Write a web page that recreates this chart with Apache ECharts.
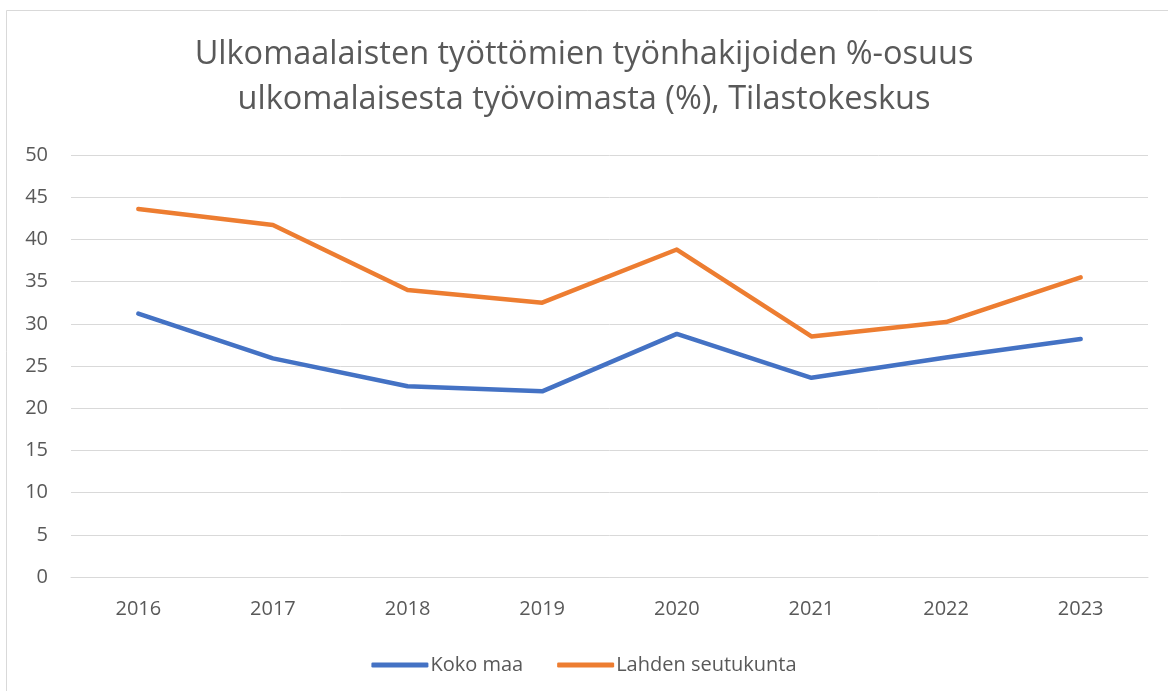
<!DOCTYPE html>
<html><head><meta charset="utf-8">
<script src="https://cdn.jsdelivr.net/npm/echarts@6/dist/echarts.min.js"></script>
<style>html,body{margin:0;padding:0;background:#fff}#c{width:1168px;height:691px}</style>
</head><body><div id="c"></div>
<script>
const years = ['2016','2017','2018','2019','2020','2021','2022','2023'];
const kokoMaa = [31.2, 25.9, 22.6, 22.0, 28.8, 23.6, 26.0, 28.2];
const lahden = [43.6, 41.7, 34.0, 32.5, 38.8, 28.5, 30.2, 35.5];
const yTicks = {min: 0, max: 50, interval: 5};
const font = 'Open Sans, Noto Sans, sans-serif';
const chart = echarts.init(document.getElementById('c'));
chart.setOption({
  backgroundColor: '#fff',
  animation: false,
  graphic: [{type:'rect', shape:{x:6.5,y:10.5,width:1200,height:720}, style:{fill:'none', stroke:'#D9D9D9', lineWidth:1}, silent:true}],
  title: {
    text: 'Ulkomaalaisten työttömien työnhakijoiden %-osuus\nulkomalaisesta työvoimasta (%), Tilastokeskus',
    left: 'center', top: 27,
    textStyle: {fontFamily: font, fontSize: 32.5, fontWeight: 'normal', color: '#595959', lineHeight: 45}
  },
  legend: {
    top: 650, left: 'center',
    itemWidth: 57, itemHeight: 5, itemGap: 34,
    icon: 'roundRect',
    textStyle: {fontFamily: font, fontSize: 20, color: '#595959', padding:[0,0,0,-3]},
    data: ['Koko maa', 'Lahden seutukunta']
  },
  grid: {left: 71, right: 20, top: 155, bottom: 114, containLabel: false},
  xAxis: {
    type: 'category', data: years, boundaryGap: true,
    axisLine: {lineStyle: {color: '#D9D9D9', width: 1}},
    axisTick: {show: false},
    axisLabel: {fontFamily: font, fontSize: 20, color: '#595959', margin: 22}
  },
  yAxis: {
    type: 'value', min: yTicks.min, max: yTicks.max, interval: yTicks.interval,
    axisLine: {show: false}, axisTick: {show: false},
    splitLine: {lineStyle: {color: '#D9D9D9', width: 1}},
    axisLabel: {fontFamily: font, fontSize: 20, color: '#595959', margin: 23}
  },
  series: [
    {name: 'Koko maa', type: 'line', data: kokoMaa, symbol: 'none', lineStyle: {width: 4.5, color: '#4472C4', cap: 'round', join: 'round'}, itemStyle: {color: '#4472C4'}},
    {name: 'Lahden seutukunta', type: 'line', data: lahden, symbol: 'none', lineStyle: {width: 4.5, color: '#ED7D31', cap: 'round', join: 'round'}, itemStyle: {color: '#ED7D31'}}
  ]
});
</script></body></html>
